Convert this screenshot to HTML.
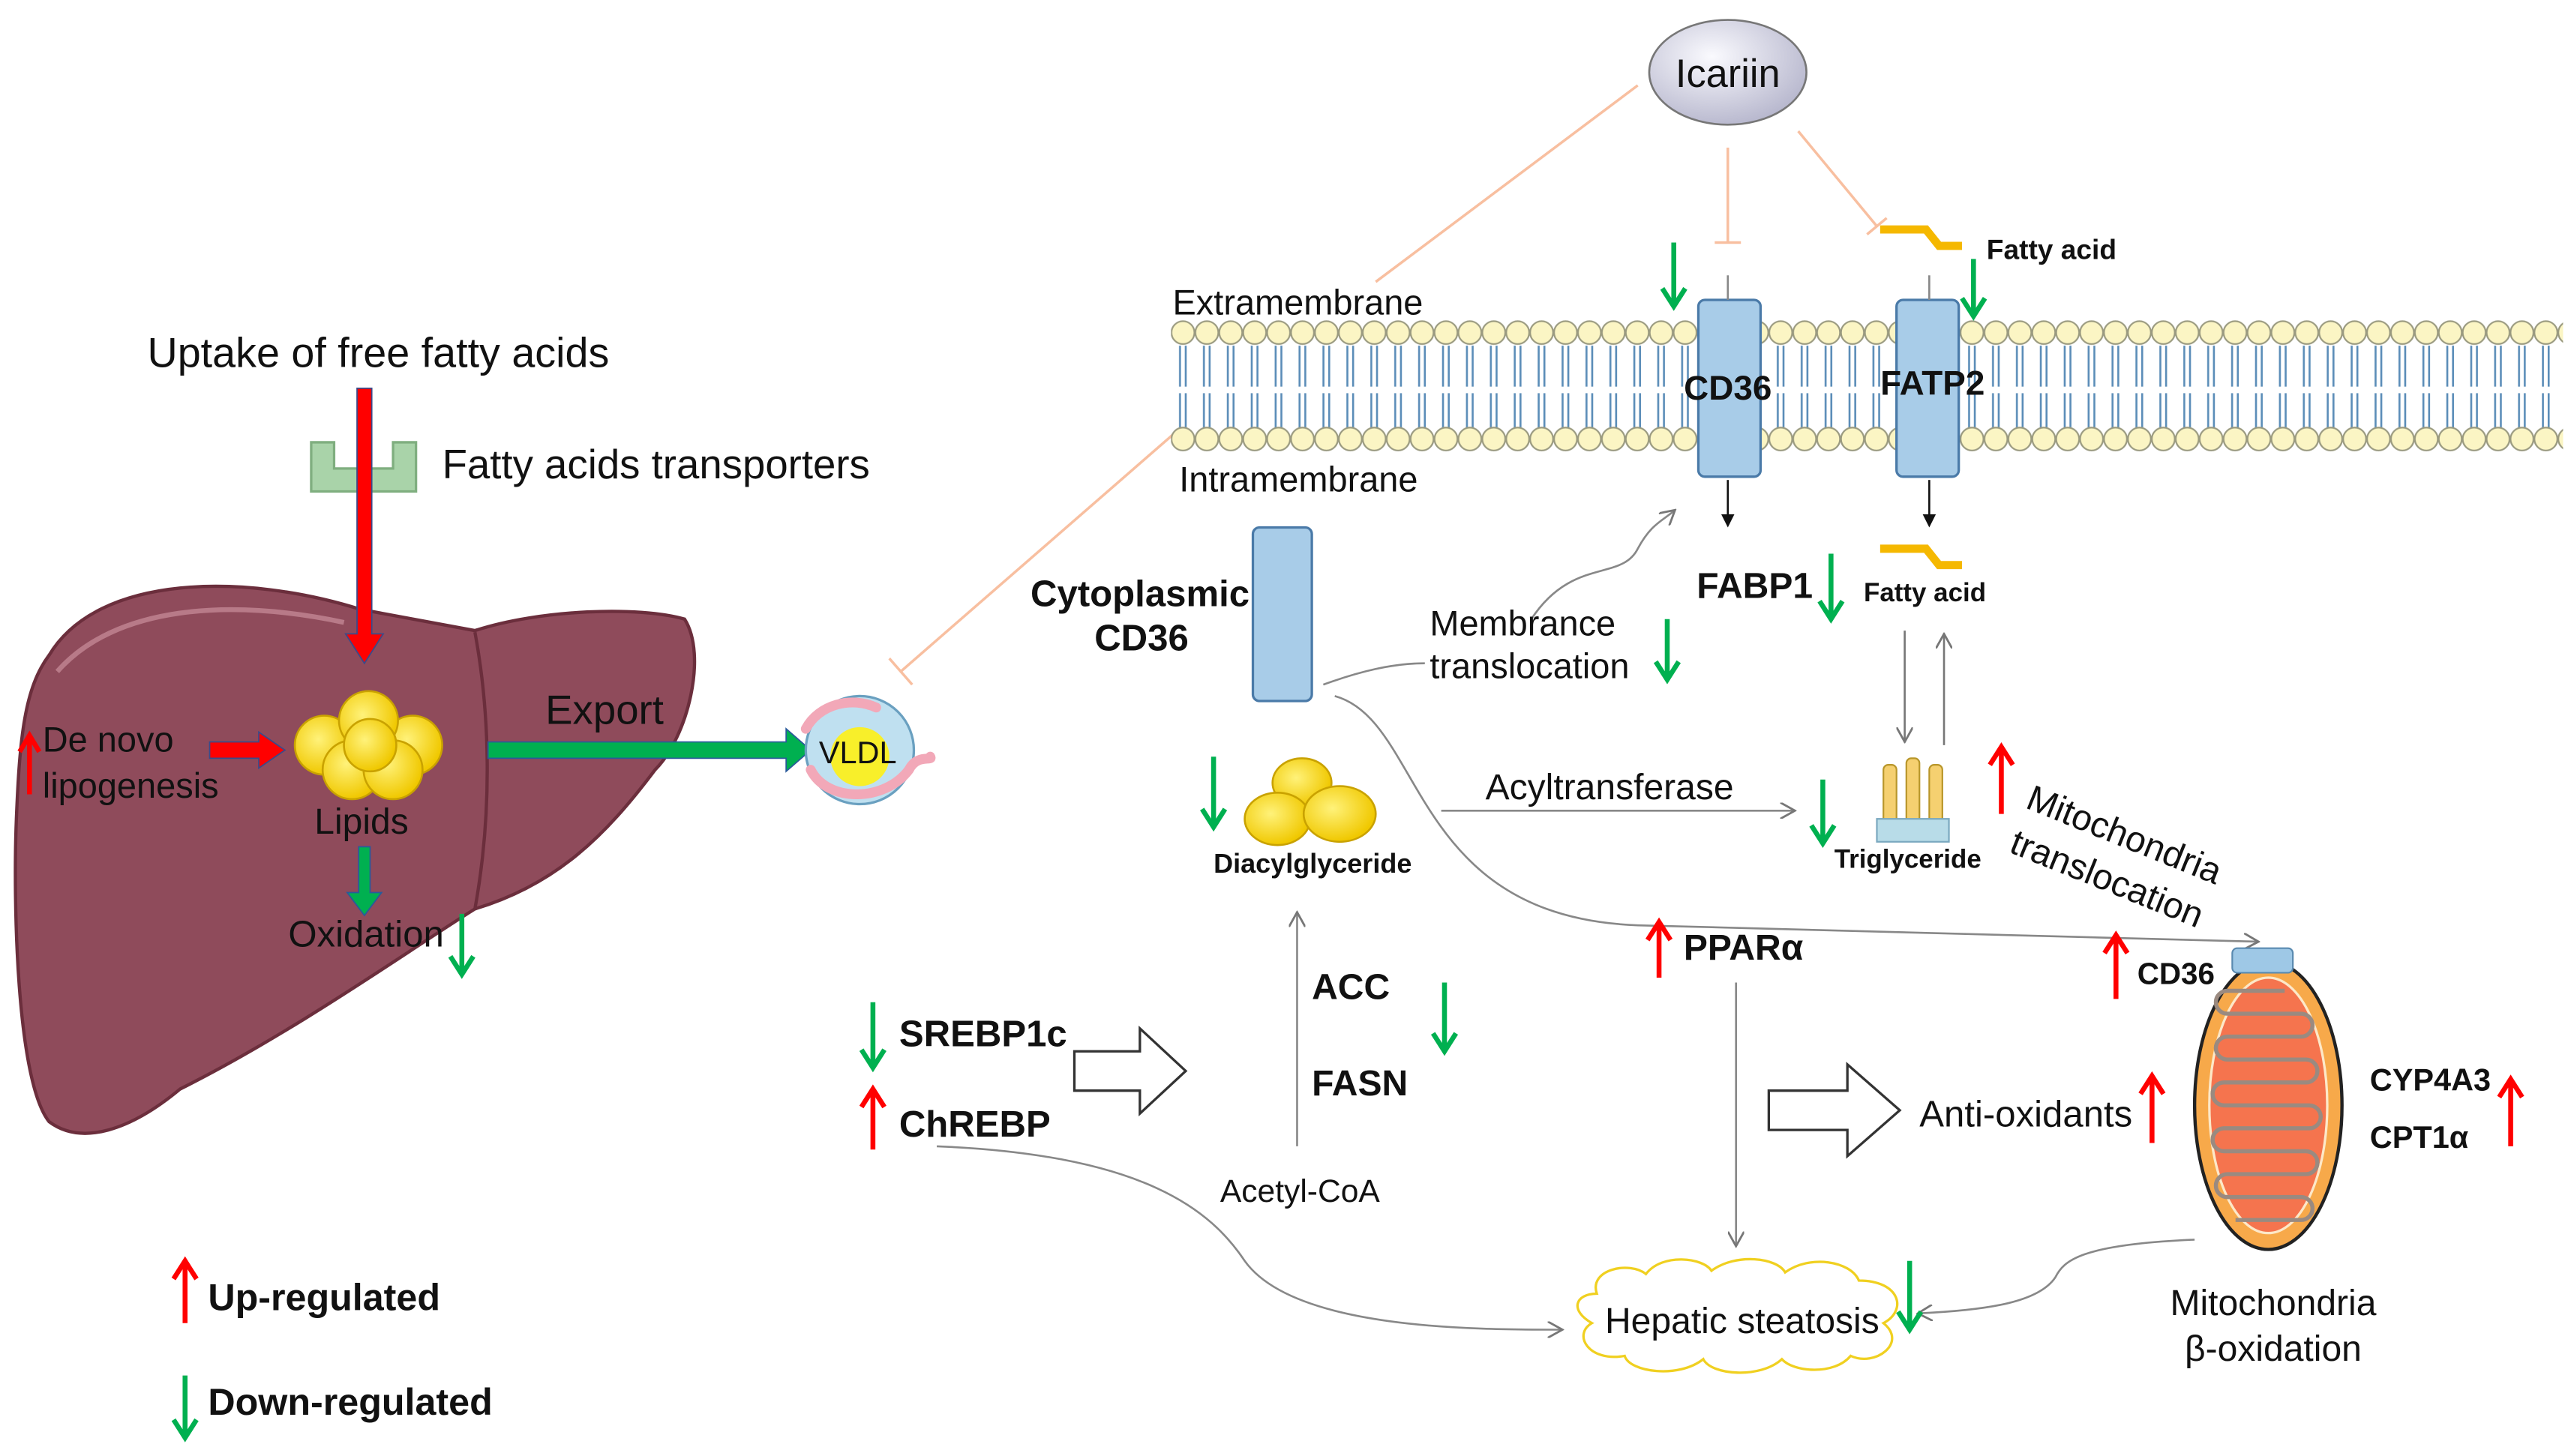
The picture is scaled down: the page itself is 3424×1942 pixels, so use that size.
<!DOCTYPE html>
<html><head><meta charset="utf-8"><style>
html,body{margin:0;padding:0;background:#fff}
svg{display:block}
text{font-family:"Liberation Sans",Arial,sans-serif;fill:#111}
.b{font-weight:bold}
</style></head><body>
<svg width="3424" height="1942" viewBox="0 0 1568 889" xmlns="http://www.w3.org/2000/svg">
<defs>
<pattern id="mem" x="715" y="0" width="14.6" height="889" patternUnits="userSpaceOnUse">
<path d="M5.5 211 V236 M9 211 V236 M5.5 240 V262 M9 240 V262" stroke="#5b8db8" stroke-width="1.2" fill="none"/>
<circle cx="7.3" cy="203" r="7" fill="#fbf5c4" stroke="#9a9a80" stroke-width="1"/>
<circle cx="7.3" cy="268" r="7" fill="#fbf5c4" stroke="#9a9a80" stroke-width="1"/>
</pattern>
<radialGradient id="ic" cx="0.4" cy="0.35" r="0.7"><stop offset="0" stop-color="#fafafe"/><stop offset="1" stop-color="#b5b5cc"/></radialGradient>
<radialGradient id="yl" cx="0.4" cy="0.4" r="0.6"><stop offset="0" stop-color="#fff27a"/><stop offset="1" stop-color="#f0c800"/></radialGradient>
<marker id="ah" markerWidth="10" markerHeight="10" refX="8" refY="5" orient="auto" markerUnits="userSpaceOnUse"><path d="M0 0 L9 5 L0 10" fill="none" stroke="#777" stroke-width="1.3"/></marker>
<marker id="ab" markerWidth="8" markerHeight="8" refX="4" refY="4" orient="auto" markerUnits="userSpaceOnUse"><path d="M0 0 L8 4 L0 8 Z" fill="#111"/></marker>
</defs>

<!-- Liver -->
<path d="M30,400 C60,350 150,350 220,372 L290,385 C330,372 390,370 418,378 C432,400 420,450 400,470 C370,510 340,540 290,555 C250,580 180,630 110,665 C80,690 50,700 30,685 C10,660 8,550 10,500 C12,450 15,420 30,400 Z" fill="#8f4b5b" stroke="#6b2e3c" stroke-width="2"/>
<path d="M290,386 C300,440 300,500 290,555" stroke="#6b2e3c" stroke-width="2" fill="none"/>
<path d="M35,410 C70,370 140,365 210,380" stroke="#b87a88" stroke-width="3" fill="none"/>

<text x="90" y="224" font-size="25.5">Uptake of free fatty acids</text>
<path d="M190,270 h14 v16 h36 v-16 h14 v30 h-64 z" fill="#a9d3a9" stroke="#7fae7f" stroke-width="1.5"/>
<text x="270" y="292" font-size="25">Fatty acids transporters</text>
<path d="M218,237 h9 v150 h7 l-11.5,18 l-11.5,-18 h7 z" fill="#f00" stroke="#3a4a8a" stroke-width="0.8"/>

<g stroke="#c9a200" stroke-width="1.2" fill="url(#yl)">
<circle cx="198" cy="455" r="18"/><circle cx="252" cy="455" r="18"/><circle cx="225" cy="440" r="18"/><circle cx="215" cy="470" r="18"/><circle cx="240" cy="470" r="18"/><circle cx="226" cy="455" r="16"/>
</g>
<text x="192" y="509" font-size="22">Lipids</text>
<path d="M128,453 h30 v-6 l16,11 l-16,11 v-6 h-30 z" fill="#f00" stroke="#3a4a8a" stroke-width="0.8"/>
<path d="M18,485 V450 M12,459 L18,449 L24,459" stroke="#f00" stroke-width="3" fill="none"/>
<text x="26" y="459" font-size="21.5">De novo</text>
<text x="26" y="487" font-size="21.5">lipogenesis</text>
<text x="333" y="442" font-size="25">Export</text>
<path d="M298,453 h182 v-8 l15,13 l-15,13 v-8 h-182 z" fill="#00b050" stroke="#2a5a9a" stroke-width="0.8"/>
<path d="M219,517 h7 v28 h7 l-10.5,14 l-10.5,-14 h7 z" fill="#00b050" stroke="#2a5a9a" stroke-width="0.8"/>
<text x="176" y="578" font-size="22.5">Oxidation</text>
<path d="M282,558 V594 M275,584 L282,595 L289,584" stroke="#00b050" stroke-width="3" fill="none"/>

<circle cx="525" cy="458" r="33" fill="#bfe0f0" stroke="#6aa0c0" stroke-width="1.5"/>
<circle cx="525" cy="462" r="18" fill="#f8ef2a"/>
<path d="M492,445 C500,430 520,425 535,432 M495,470 C505,490 540,490 555,470 C560,460 570,465 568,462" stroke="#f2a8b8" stroke-width="6" fill="none" stroke-linecap="round"/>
<text x="500" y="466" font-size="19">VLDL</text>

<path d="M113,808 V771 M106,781 L113,770 L120,781" stroke="#f00" stroke-width="3" fill="none"/>
<text x="127" y="800" font-size="23" class="b">Up-regulated</text>
<path d="M113,840 V877 M106,867 L113,878 L120,867" stroke="#00b050" stroke-width="3" fill="none"/>
<text x="127" y="864" font-size="23" class="b">Down-regulated</text>

<ellipse cx="1055" cy="44" rx="48" ry="32" fill="url(#ic)" stroke="#777" stroke-width="1.2"/>
<text x="1055" y="53" font-size="24" text-anchor="middle">Icariin</text>
<g stroke="#f8bfa0" stroke-width="1.6" fill="none">
<path d="M1000,52 L840,172"/>
<path d="M720,262 L550,410 M543,402 L557,418"/>
<path d="M1055,90 V148 M1047,148 H1063"/>
<path d="M1098,80 L1146,138 M1140,143 L1152,133"/>
</g>

<rect x="715" y="190" width="850" height="90" fill="url(#mem)"/>
<text x="716" y="192" font-size="21.5">Extramembrane</text>
<text x="720" y="300" font-size="21.5">Intramembrane</text>
<rect x="1037" y="183" width="38" height="108" rx="4" fill="#a8cce8" stroke="#4a7aa8" stroke-width="1.5"/>
<text x="1055" y="244" font-size="21" class="b" text-anchor="middle">CD36</text>
<rect x="1158" y="183" width="38" height="108" rx="4" fill="#a8cce8" stroke="#4a7aa8" stroke-width="1.5"/>
<text x="1180" y="241" font-size="21" class="b" text-anchor="middle">FATP2</text>
<path d="M1055,293 V318" stroke="#111" stroke-width="1.2" marker-end="url(#ab)"/>
<path d="M1178,293 V318" stroke="#111" stroke-width="1.2" marker-end="url(#ab)"/>
<path d="M1055,168 V183 M1178,168 V183" stroke="#888" stroke-width="1.2"/>
<path d="M1148,140 h28 l8,10 h14" stroke="#f5b800" stroke-width="5" fill="none"/>
<text x="1213" y="158" font-size="17" class="b">Fatty acid</text>
<path d="M1205,158 V192 M1198,182 L1205,193 L1212,182" stroke="#00b050" stroke-width="3" fill="none"/>
<path d="M1022,148 V186 M1015,176 L1022,187 L1029,176" stroke="#00b050" stroke-width="3" fill="none"/>

<text x="1036" y="365" font-size="22" class="b">FABP1</text>
<path d="M1118,338 V377 M1111,367 L1118,378 L1125,367" stroke="#00b050" stroke-width="3" fill="none"/>
<path d="M1148,335 h28 l8,10 h14" stroke="#f5b800" stroke-width="5" fill="none"/>
<text x="1138" y="367" font-size="16" class="b">Fatty acid</text>
<path d="M1163,385 V452" stroke="#777" stroke-width="1.2" marker-end="url(#ah)"/>
<path d="M1187,455 V388" stroke="#777" stroke-width="1.2" marker-end="url(#ah)"/>
<g fill="#f5d070" stroke="#b8962a" stroke-width="1">
<rect x="1150" y="467" width="8" height="36" rx="3"/><rect x="1164" y="463" width="8" height="40" rx="3"/><rect x="1178" y="467" width="8" height="36" rx="3"/>
</g>
<rect x="1146" y="500" width="44" height="14" fill="#b8dce8" stroke="#7aa8bf"/>
<text x="1120" y="530" font-size="16" class="b">Triglyceride</text>
<path d="M1113,476 V514 M1106,504 L1113,515 L1120,504" stroke="#00b050" stroke-width="3" fill="none"/>
<path d="M1222,497 V457 M1215,467 L1222,456 L1229,467" stroke="#f00" stroke-width="3" fill="none"/>
<text font-size="22" transform="translate(1236,493) rotate(22)">Mitochondria</text>
<text font-size="22" transform="translate(1226,520) rotate(22)">translocation</text>

<rect x="765" y="322" width="36" height="106" rx="4" fill="#a8cce8" stroke="#4a7aa8" stroke-width="1.5"/>
<text x="763" y="370" font-size="22.5" class="b" text-anchor="end">Cytoplasmic</text>
<text x="697" y="397" font-size="22.5" class="b" text-anchor="middle">CD36</text>
<path d="M808,418 C830,410 850,405 870,405" stroke="#888" stroke-width="1.2" fill="none"/>
<path d="M935,378 C960,340 990,355 1000,335 C1008,320 1015,318 1022,312" stroke="#888" stroke-width="1.2" fill="none" marker-end="url(#ah)"/>
<text x="873" y="388" font-size="21.5">Membrance</text>
<text x="873" y="414" font-size="21.5">translocation</text>
<path d="M1018,378 V414 M1011,404 L1018,415 L1025,404" stroke="#00b050" stroke-width="3" fill="none"/>
<path d="M815,425 C870,440 860,560 1000,565 L1378,575" stroke="#888" stroke-width="1.2" fill="none" marker-end="url(#ah)"/>

<g stroke="#c9a200" stroke-width="1.2" fill="url(#yl)">
<ellipse cx="795" cy="478" rx="18" ry="15"/><ellipse cx="780" cy="500" rx="20" ry="16"/><ellipse cx="818" cy="497" rx="22" ry="17"/>
</g>
<text x="741" y="533" font-size="16.5" class="b">Diacylglyceride</text>
<path d="M741,462 V504 M734,494 L741,505 L748,494" stroke="#00b050" stroke-width="3" fill="none"/>
<text x="907" y="488" font-size="22">Acyltransferase</text>
<path d="M880,495 H1095" stroke="#888" stroke-width="1.2" marker-end="url(#ah)"/>
<path d="M792,700 V558" stroke="#888" stroke-width="1.2" marker-end="url(#ah)"/>
<text x="801" y="610" font-size="22" class="b">ACC</text>
<text x="801" y="669" font-size="22" class="b">FASN</text>
<path d="M882,600 V641 M875,631 L882,642 L889,631" stroke="#00b050" stroke-width="3" fill="none"/>
<text x="745" y="734" font-size="19.5">Acetyl-CoA</text>

<text x="549" y="639" font-size="22.5" class="b">SREBP1c</text>
<path d="M533,612 V651 M526,641 L533,652 L540,641" stroke="#00b050" stroke-width="3" fill="none"/>
<text x="549" y="694" font-size="22.5" class="b">ChREBP</text>
<path d="M533,702 V666 M526,676 L533,665 L540,676" stroke="#f00" stroke-width="3" fill="none"/>
<path d="M656,642 h40 v-14 l28,26 l-28,26 v-14 h-40 z" fill="#fff" stroke="#333" stroke-width="1.5"/>
<path d="M572,700 C700,705 740,740 760,770 C790,812 900,812 953,812" stroke="#888" stroke-width="1.2" fill="none" marker-end="url(#ah)"/>

<path d="M1013,597 V564 M1006,574 L1013,563 L1020,574" stroke="#f00" stroke-width="3" fill="none"/>
<text x="1028" y="586" font-size="22" class="b">PPARα</text>
<path d="M1060,600 V760" stroke="#888" stroke-width="1.2" marker-end="url(#ah)"/>
<path d="M1080,666 h48 v-16 l32,28 l-32,28 v-16 h-48 z" fill="#fff" stroke="#333" stroke-width="1.5"/>
<text x="1172" y="688" font-size="22.5">Anti-oxidants</text>
<path d="M1314,698 V658 M1307,668 L1314,657 L1321,668" stroke="#f00" stroke-width="3" fill="none"/>
<path d="M1292,610 V572 M1285,582 L1292,571 L1299,582" stroke="#f00" stroke-width="3" fill="none"/>
<text x="1305" y="601" font-size="18.5" class="b">CD36</text>

<ellipse cx="1385" cy="675" rx="45" ry="88" fill="#f7a94a" stroke="#222" stroke-width="2"/>
<ellipse cx="1385" cy="675" rx="36" ry="78" fill="#f5744e" stroke="#fde8c8" stroke-width="1.5"/>
<path d="M1395,605 H1360 a6 6 0 0 0 0 14 H1405 a6 6 0 0 1 0 14 H1360 a6 6 0 0 0 0 14 H1408 a6 6 0 0 1 0 14 H1358 a6 6 0 0 0 0 14 H1410 a6 6 0 0 1 0 14 H1358 a6 6 0 0 0 0 14 H1408 a6 6 0 0 1 0 14 H1360 a6 6 0 0 0 0 14 H1405 a6 6 0 0 1 0 14 H1365" stroke="#9a8a80" stroke-width="2.5" fill="none"/>
<rect x="1363" y="579" width="37" height="15" rx="3" fill="#9ec8e6" stroke="#5a8ab0"/>
<text x="1447" y="666" font-size="19" class="b">CYP4A3</text>
<text x="1447" y="701" font-size="19" class="b">CPT1α</text>
<path d="M1533,700 V660 M1526,670 L1533,659 L1540,670" stroke="#f00" stroke-width="3" fill="none"/>
<text x="1388" y="803" font-size="22" text-anchor="middle">Mitochondria</text>
<text x="1388" y="831" font-size="22" text-anchor="middle">β-oxidation</text>
<path d="M1340,757 C1270,760 1260,770 1255,780 C1245,795 1215,800 1172,802" stroke="#888" stroke-width="1.2" fill="none" marker-end="url(#ah)"/>

<path d="M975,790 C970,775 995,770 1005,778 C1015,765 1040,768 1045,776 C1060,765 1085,768 1090,777 C1105,766 1130,770 1135,782 C1160,782 1165,800 1150,808 C1165,820 1145,835 1130,828 C1120,840 1095,838 1088,830 C1075,842 1045,840 1040,830 C1025,842 995,838 992,828 C970,832 960,815 972,808 C958,800 962,790 975,790 Z" fill="#fff" stroke="#f0d020" stroke-width="1.5"/>
<text x="980" y="814" font-size="22">Hepatic steatosis</text>
<path d="M1166,770 V811 M1159,801 L1166,812 L1173,801" stroke="#00b050" stroke-width="3" fill="none"/>
</svg>
</body></html>
